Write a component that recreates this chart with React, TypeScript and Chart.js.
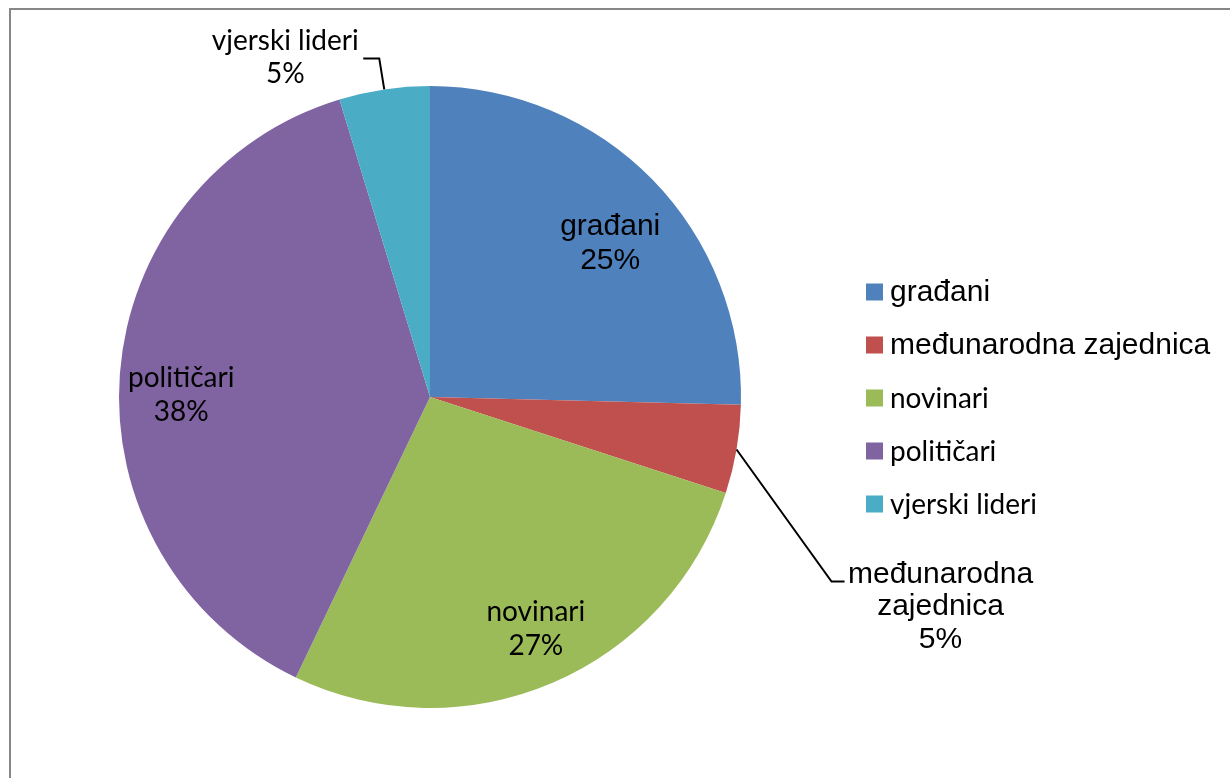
import React, { useEffect, useRef } from 'react';
import { Chart, registerables } from 'chart.js';

Chart.register(...registerables);

// ---- data ----
const categories = ['građani', 'međunarodna zajednica', 'novinari', 'političari', 'vjerski lideri'];
const shares = [25.4, 4.6, 27.1, 38.2, 4.7];
const sliceColors = ['#4F81BD', '#C0504D', '#9BBB59', '#8064A2', '#4BACC6'];
const labelNameLines = [['građani'], ['međunarodna', 'zajednica'], ['novinari'], ['političari'], ['vjerski lideri']];

// ---- presentation ----
const ARIAL = '"Liberation Sans", Arial, sans-serif';
const CALIBRI = 'Lato, "Open Sans", sans-serif';
const ARIAL_SIZE = 30;
const CALIBRI_SIZE = 28;

type InsideLayout = { type: 'inside'; radius: number; turn: number };
type OutsideLayout = { type: 'outside'; elbow: [number, number]; tail: [number, number]; text: [number, number] };
const labelLayout: (InsideLayout | OutsideLayout)[] = [
  { type: 'inside', radius: 0.764, turn: 3.6 },
  { type: 'outside', elbow: [95, 132], tail: [108, 132], text: [204, 133] },
  { type: 'inside', radius: 0.817, turn: -1.4 },
  { type: 'inside', radius: 0.8, turn: -3.6 },
  { type: 'outside', elbow: [-5, -31], tail: [-21, -31], text: [-99, -39] },
];
const legendLayout = { x: 866, y: 292, box: 17, gap: 53, textGap: 7 };

const fontFor = (name: string) => (/đ/.test(name) ? `${ARIAL_SIZE}px ${ARIAL}` : `${CALIBRI_SIZE}px ${CALIBRI}`);

const labelPlugin = {
  id: 'excelLabels',
  afterDatasetsDraw(chart: any) {
    const ctx: CanvasRenderingContext2D = chart.ctx;
    const meta = chart.getDatasetMeta(0);
    ctx.save();
    ctx.fillStyle = '#000';
    ctx.strokeStyle = '#000';
    ctx.lineWidth = 2;
    ctx.textAlign = 'center';
    ctx.textBaseline = 'alphabetic';
    meta.data.forEach((arc: any, i: number) => {
      const { x, y, startAngle, endAngle, outerRadius } = arc.getProps(
        ['x', 'y', 'startAngle', 'endAngle', 'outerRadius'],
        true
      );
      const mid = (startAngle + endAngle) / 2;
      const lines = [...labelNameLines[i], `${Math.round(shares[i])}%`];
      const lay = labelLayout[i];
      ctx.font = fontFor(categories[i]);
      if (lay.type === 'inside') {
        const a = mid + (lay.turn * Math.PI) / 180;
        const px = x + Math.cos(a) * outerRadius * lay.radius;
        const py = y + Math.sin(a) * outerRadius * lay.radius;
        lines.forEach((t, k) => ctx.fillText(t, px, py - 7 + k * 34));
      } else {
        const ax = x + Math.cos(mid) * outerRadius;
        const ay = y + Math.sin(mid) * outerRadius;
        ctx.beginPath();
        ctx.moveTo(ax, ay);
        ctx.lineTo(ax + lay.elbow[0], ay + lay.elbow[1]);
        ctx.lineTo(ax + lay.tail[0], ay + lay.tail[1]);
        ctx.stroke();
        lines.forEach((t, k) => ctx.fillText(t, ax + lay.text[0], ay + lay.text[1] + k * 32.5));
      }
    });

    // legend
    ctx.textAlign = 'left';
    ctx.textBaseline = 'middle';
    categories.forEach((name, i) => {
      const cy = legendLayout.y + i * legendLayout.gap;
      ctx.fillStyle = sliceColors[i];
      ctx.fillRect(legendLayout.x, cy - legendLayout.box / 2, legendLayout.box, legendLayout.box);
      ctx.fillStyle = '#000';
      ctx.font = fontFor(name);
      ctx.fillText(name, legendLayout.x + legendLayout.box + legendLayout.textGap, cy + 1);
    });
    ctx.restore();
  },
};

export default function App() {
  const canvasRef = useRef<HTMLCanvasElement | null>(null);

  useEffect(() => {
    if (!canvasRef.current) return;
    const chart = new Chart(canvasRef.current, {
      type: 'pie',
      data: {
        labels: categories,
        datasets: [
          {
            data: shares,
            backgroundColor: sliceColors,
            borderWidth: 0,
            hoverOffset: 0,
            offset: 0,
          },
        ],
      },
      options: {
        animation: false,
        responsive: false,
        events: [],
        layout: { padding: { left: 119, right: 489, top: 86, bottom: 70 } },
        plugins: {
          legend: { display: false },
          tooltip: { enabled: false },
          title: { display: false },
        },
      },
      plugins: [labelPlugin],
    });
    return () => chart.destroy();
  }, []);

  return (
    <div
      style={{
        position: 'fixed',
        left: 0,
        top: 0,
        width: 1230,
        height: 778,
        background: '#fff',
        overflow: 'hidden',
      }}
    >
      <div
        style={{
          position: 'absolute',
          left: 9,
          top: 8,
          width: 1300,
          height: 900,
          borderLeft: '2px solid #878787',
          borderTop: '2px solid #878787',
        }}
      />
      <canvas
        ref={canvasRef}
        width={1230}
        height={778}
        style={{ position: 'absolute', left: 0, top: 0, width: 1230, height: 778 }}
      />
    </div>
  );
}
